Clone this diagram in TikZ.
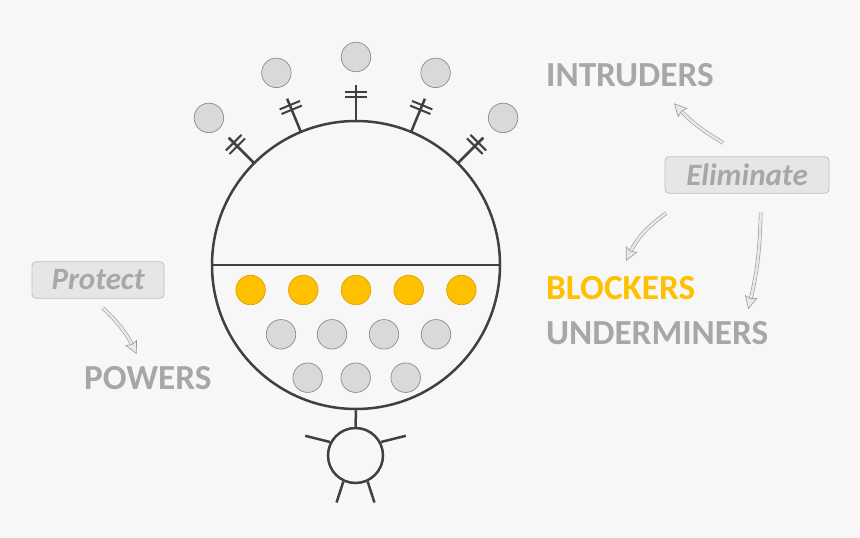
\documentclass[tikz,border=0pt]{standalone}
\usepackage{fontspec}
\setmainfont{Carlito}
\usetikzlibrary{arrows.meta, calc}
\definecolor{bgpaper}{HTML}{F7F7F7}
\definecolor{inkline}{HTML}{404040}
\definecolor{beadfill}{HTML}{D9D9D9}
\definecolor{beadline}{HTML}{8C8C8C}
\definecolor{gold}{HTML}{FFC000}
\definecolor{goldline}{HTML}{D9A300}
\definecolor{taggray}{HTML}{A9A6A6}
\definecolor{boxfill}{HTML}{E6E6E6}
\definecolor{boxline}{HTML}{BFBFBF}
\definecolor{arrowline}{HTML}{9A9A9A}
\definecolor{arrowfill}{HTML}{E8E8E8}

\begin{document}
\begin{tikzpicture}[x=1pt, y=1pt,
  wire/.style={draw=inkline, line width=2.5pt},
  greybead/.style={circle, draw=beadline, fill=beadfill, line width=0.7pt, minimum size=29.5pt, inner sep=0pt},
  goldbead/.style={greybead, draw=goldline, fill=gold},
  tag/.style={anchor=west, text=taggray, font=\fontsize{35.2}{40}\selectfont\bfseries, inner sep=0pt},
  actbox/.style={draw=boxline, fill=boxfill, rounded corners=4pt, line width=0.8pt, text=taggray, font=\fontsize{31}{36}\selectfont\bfseries\itshape, minimum height=36.5pt, inner sep=0pt},
  hollow/.style={draw=arrowline, double=arrowfill, double distance=2.5pt, line width=0.6pt, -{Stealth[inset=2pt, length=13pt, width=13pt, fill=arrowfill]}}
]
\fill[bgpaper] (0,0) rectangle (860,-538);
\useasboundingbox (0,0) rectangle (860,-538);

\node[circle, wire, minimum size=288pt, inner sep=0pt] (body) at (356,-265) {};
\draw[wire] (body.west) -- (body.east);

\foreach \a [count=\i] in {45,67.5,90,112.5,135} {
  \draw[wire] ($(body.center)+(\a:144)$) -- ++(\a:36);
  \draw[wire, line width=2pt] ($(body.center)+(\a:168)+(\a+90:11)$) -- ++(\a-90:22);
  \draw[wire, line width=2pt] ($(body.center)+(\a:173)+(\a+90:11)$) -- ++(\a-90:22);
  \node[greybead] (sensor\i) at ($(body.center)+(\a:208)$) {};
}

\foreach \x [count=\i] in {250.6,303.3,356,408.7,461.4}
  \node[goldbead] (blocker\i) at (\x,-290) {};
\foreach \x [count=\i] in {281,332,384,436}
  \node[greybead] (inner\i) at (\x,-334.3) {};
\foreach \x [count=\i] in {307.7,355.7,405.7}
  \node[greybead] (deep\i) at (\x,-377.7) {};

\node[circle, wire, minimum size=55pt, inner sep=0pt] (head) at (355.5,-455.5) {};
\draw[wire] (body.south) -- (head.north);
\draw[wire] (head.152) -- ++(166:25.7);
\draw[wire] (head.28) -- ++(14:25.7);
\draw[wire] (head.245) -- ++(252:22);
\draw[wire] (head.295) -- ++(288:22);

\node[tag] (intruders) at (546,-75.5) {INTRUDERS};
\node[tag, text=gold] (blockers) at (546,-288) {BLOCKERS};
\node[tag] (underminers) at (546,-333) {UNDERMINERS};
\node[tag] (powers) at (84,-378) {POWERS};

\node[actbox, minimum width=132pt] (protect) at (98,-280) {Protect};
\node[actbox, minimum width=164pt] (eliminate) at (747,-175) {Eliminate};

\draw[hollow] ([xshift=-23.7pt, yshift=13.4pt]eliminate.north) to[bend left=8] ([xshift=128pt, yshift=-16pt]intruders.south west);
\draw[hollow] ([xshift=1.7pt, yshift=-19.4pt]eliminate.south west) to[bend right=14] ([xshift=80pt, yshift=15.3pt]blockers.north west);
\draw[hollow] ([xshift=13.7pt, yshift=-19pt]eliminate.south) to[bend left=6] ([xshift=202.3pt, yshift=12pt]underminers.north west);
\draw[hollow] ([xshift=4.7pt, yshift=-9pt]protect.south) to[bend left=10] ([xshift=52.7pt, yshift=12pt]powers.north west);
\end{tikzpicture}
\end{document}
